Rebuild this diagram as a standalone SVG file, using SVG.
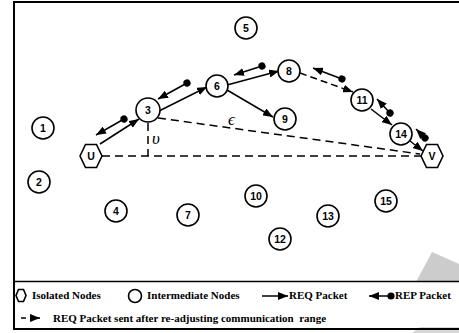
<svg xmlns="http://www.w3.org/2000/svg" width="459" height="333" viewBox="0 0 459 333">
<style>
.n circle{fill:#fff;stroke:#000;stroke-width:1.6}
.n polygon{fill:#fff;stroke:#000;stroke-width:1.6}
.n text{font-family:"Liberation Sans",Arial,sans-serif;font-weight:bold;font-size:10.5px;text-anchor:middle;fill:#000}
.req{fill:none;stroke:#000;stroke-width:1.5;marker-end:url(#ah)}
.reqd{fill:none;stroke:#000;stroke-width:1.5;stroke-dasharray:7 4;marker-end:url(#ah)}
.rep{fill:none;stroke:#000;stroke-width:1.5;marker-start:url(#dot);marker-end:url(#ah)}
.dl{fill:none;stroke:#000;stroke-width:1.5;stroke-dasharray:8 5}
.lg{font-family:"Liberation Serif","Times New Roman",serif;font-weight:bold;font-size:11px;fill:#000}
.gr{font-family:"Liberation Serif","Times New Roman",serif;font-style:italic;font-size:17px;fill:#000}
</style>
<defs>
<marker id="ah" viewBox="0 0 10 8" refX="10" refY="4" markerWidth="10" markerHeight="8" markerUnits="userSpaceOnUse" orient="auto">
<path d="M0,0 L10,4 L0,8 Z" fill="#000"/>
</marker>
<marker id="dot" viewBox="0 0 8 8" refX="4" refY="4" markerWidth="8" markerHeight="8" markerUnits="userSpaceOnUse" orient="auto">
<circle cx="4" cy="4" r="3.6" fill="#000"/>
</marker>
</defs>
<rect width="459" height="333" fill="#fff"/>
<g id="watermark" opacity="0.5">
<polygon points="416,282 432,252 459,264 459,282" fill="#9a9a9a"/>
<polygon points="412,333 420,327 459,327 459,333" fill="#b0b0b0"/>
</g>
<rect x="14" y="2" width="452" height="327" fill="none" stroke="#000" stroke-width="2"/>
<line x1="14" y1="281.5" x2="459" y2="281.5" stroke="#000" stroke-width="1.5"/>

<g id="connectors">
<line class="dl" x1="102" y1="156" x2="421" y2="156"/>
<line class="dl" x1="158" y1="118" x2="420" y2="154"/>
<line class="dl" x1="148" y1="123" x2="148" y2="156"/>
<path class="req" d="M100,144 L139,119"/>
<path class="req" d="M159,111 L207,87"/>
<path class="req" d="M227,85 L279,71"/>
<path class="req" d="M227,90 L273,117"/>
<path class="reqd" d="M300,73 L353,92"/>
<path class="req" d="M371,109 L392,125"/>
<path class="req" d="M410,141 L423,151"/>
<path class="rep" d="M124,119 L96,135"/>
<path class="rep" d="M187,83 L158,99"/>
<path class="rep" d="M262,66 L234,75"/>
<path class="rep" d="M342,79 L313,68"/>
<path class="rep" d="M390,113 L377,99"/>
<path class="rep" d="M425,138 L416,129"/>
<text class="gr" x="152" y="144">υ</text>
<text class="gr" x="228" y="125">ϵ</text>
</g>

<g id="nU" class="n"><polygon points="80,156 85.5,144.5 96.5,144.5 102,156 96.5,167.5 85.5,167.5"/><text x="91" y="159.5">U</text></g>
<g id="nV" class="n"><polygon points="421,156 426.5,144.5 437.5,144.5 443,156 437.5,167.5 426.5,167.5"/><text x="432" y="159.5">V</text></g>
<g id="n1" class="n"><circle cx="43" cy="128" r="11"/><text x="43" y="131.5">1</text></g>
<g id="n2" class="n"><circle cx="39" cy="182" r="11"/><text x="39" y="185.5">2</text></g>
<g id="n3" class="n"><circle cx="148" cy="110" r="12"/><text x="148" y="113.5">3</text></g>
<g id="n4" class="n"><circle cx="116" cy="211" r="11"/><text x="116" y="214.5">4</text></g>
<g id="n5" class="n"><circle cx="246" cy="28" r="11"/><text x="246" y="31.5">5</text></g>
<g id="n6" class="n"><circle cx="217" cy="86" r="11"/><text x="217" y="89.5">6</text></g>
<g id="n7" class="n"><circle cx="188" cy="215" r="11"/><text x="188" y="218.5">7</text></g>
<g id="n8" class="n"><circle cx="289" cy="71" r="11"/><text x="289" y="74.5">8</text></g>
<g id="n9" class="n"><circle cx="285" cy="119" r="11"/><text x="285" y="122.5">9</text></g>
<g id="n10" class="n"><circle cx="256" cy="196" r="11"/><text x="256" y="199.5">10</text></g>
<g id="n11" class="n"><circle cx="362" cy="100" r="11"/><text x="362" y="103.5">11</text></g>
<g id="n12" class="n"><circle cx="280" cy="239" r="11"/><text x="280" y="242.5">12</text></g>
<g id="n13" class="n"><circle cx="328" cy="216" r="11"/><text x="328" y="219.5">13</text></g>
<g id="n14" class="n"><circle cx="401" cy="134" r="11"/><text x="401" y="137.5">14</text></g>
<g id="n15" class="n"><circle cx="386" cy="201" r="11"/><text x="386" y="204.5">15</text></g>

<g id="legend">
<polygon points="16,295.5 18.5,289.5 23.5,289.5 26,295.5 23.5,301.5 18.5,301.5" fill="#fff" stroke="#000" stroke-width="1.6"/>
<text class="lg" x="32" y="299">Isolated Nodes</text>
<circle cx="135" cy="296" r="6.5" fill="#fff" stroke="#000" stroke-width="1.6"/>
<text class="lg" x="147" y="299">Intermediate Nodes</text>
<path class="req" d="M262,296 L288,296"/>
<text class="lg" x="289" y="299">REQ Packet</text>
<path class="rep" d="M391,296 L369,296"/>
<text class="lg" x="395" y="299">REP Packet</text>
<path d="M21,318 L26,318 M30,318 L40,318" stroke="#000" stroke-width="1.6" fill="none" marker-end="url(#ah)"/>
<text class="lg" x="53" y="322" xml:space="preserve">REQ Packet sent after re-adjusting communication  range</text>
</g>
</svg>
